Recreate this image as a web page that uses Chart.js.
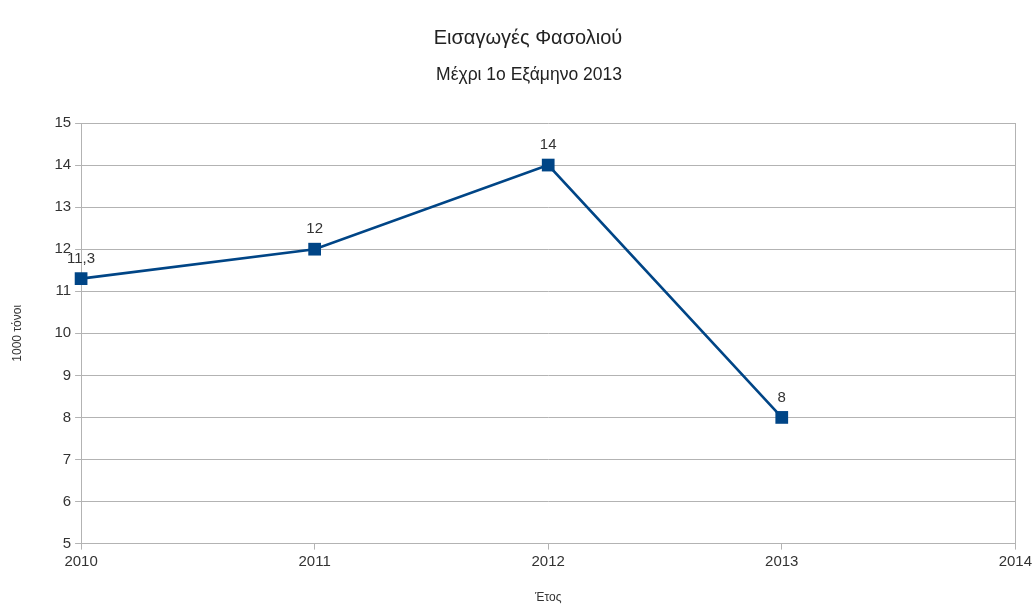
<!DOCTYPE html>
<html>
<head>
<meta charset="utf-8">
<script src="https://cdn.jsdelivr.net/npm/chart.js@4.4.1/dist/chart.umd.min.js"></script>
<style>
  html, body { margin: 0; padding: 0; background: #fff; }
  #wrap { width: 1035px; height: 605px; }
</style>
</head>
<body>
<div id="wrap"><canvas id="importsChart" width="1035" height="605"></canvas></div>
<script>
// --- Data ---
const years = [2010, 2011, 2012, 2013];
const tonnes = [11.3, 12, 14, 8];       // thousand tonnes
const xRange = [2010, 2014];
const yRange = [5, 15];

const titleText = 'Εισαγωγές Φασολιού';
const subtitleText = 'Μέχρι 1ο Εξάμηνο 2013';
const yAxisTitle = '1000 τόνοι';
const xAxisTitle = 'Έτος';

const FONT = '"Liberation Sans", Arial, sans-serif';
const GRID = '#b3b3b3';
const SERIES = '#004586';

// --- Headings: drawn by hand so they sit slightly left of the plot centre ---
const headings = {
    id: 'headings',
    afterDraw(chart) {
        const ctx = chart.ctx;
        ctx.save();
        ctx.fillStyle = '#222';
        ctx.textAlign = 'center';
        ctx.textBaseline = 'middle';
        ctx.font = '20px ' + FONT;
        ctx.fillText(titleText, 528, 38);
        ctx.font = '17.5px ' + FONT;
        ctx.fillText(subtitleText, 529, 75);
        ctx.restore();
    }
};

// --- Value labels above each point ---
const valueLabels = {
    id: 'valueLabels',
    afterDatasetsDraw(chart) {
        const ctx = chart.ctx;
        const meta = chart.getDatasetMeta(0);
        ctx.save();
        ctx.font = '15px ' + FONT;
        ctx.fillStyle = '#333';
        ctx.textAlign = 'center';
        ctx.textBaseline = 'middle';
        meta.data.forEach((pt, i) => {
            const txt = String(tonnes[i]).replace('.', ',');
            ctx.fillText(txt, pt.x, pt.y - 20);
        });
        ctx.restore();
    }
};

const ctx = document.getElementById('importsChart').getContext('2d');
const chart = new Chart(ctx, {
    type: 'line',
    data: {
        datasets: [{
            data: years.map((y, i) => ({ x: y, y: tonnes[i] })),
            borderColor: SERIES,
            backgroundColor: SERIES,
            borderWidth: 2.6,
            pointStyle: 'rect',
            pointRadius: 9,
            pointHoverRadius: 9,
            pointBorderWidth: 0,
            tension: 0,
            clip: false
        }]
    },
    options: {
        responsive: false,
        animation: false,
        layout: { padding: { left: 10, right: 14, top: 123, bottom: 0 } },
        plugins: {
            legend: { display: false },
            tooltip: { enabled: false },
            title: { display: false },
            subtitle: { display: false }
        },
        scales: {
            x: {
                type: 'linear',
                min: xRange[0],
                max: xRange[1],
                ticks: {
                    stepSize: 1,
                    color: '#333',
                    font: { family: FONT, size: 15 },
                    padding: 3,
                    callback: v => String(v)
                },
                grid: {
                    drawOnChartArea: true,
                    color: c => (c.tick && c.tick.value === xRange[1]) ? GRID : 'rgba(0,0,0,0)',
                    tickColor: GRID,
                    tickLength: 6
                },
                border: { display: true, color: GRID },
                title: {
                    display: true,
                    text: xAxisTitle,
                    color: '#333',
                    font: { family: FONT, size: 12 },
                    padding: { top: 17, bottom: 0 }
                }
            },
            y: {
                min: yRange[0],
                max: yRange[1],
                ticks: {
                    stepSize: 1,
                    color: '#333',
                    font: { family: FONT, size: 15 },
                    padding: 4
                },
                grid: {
                    color: GRID,
                    tickColor: GRID,
                    tickLength: 6
                },
                border: { display: true, color: GRID },
                title: {
                    display: true,
                    text: yAxisTitle,
                    color: '#333',
                    font: { family: FONT, size: 12 },
                    padding: { top: 0, bottom: 26 }
                }
            }
        }
    },
    plugins: [headings, valueLabels]
});
</script>
</body>
</html>
